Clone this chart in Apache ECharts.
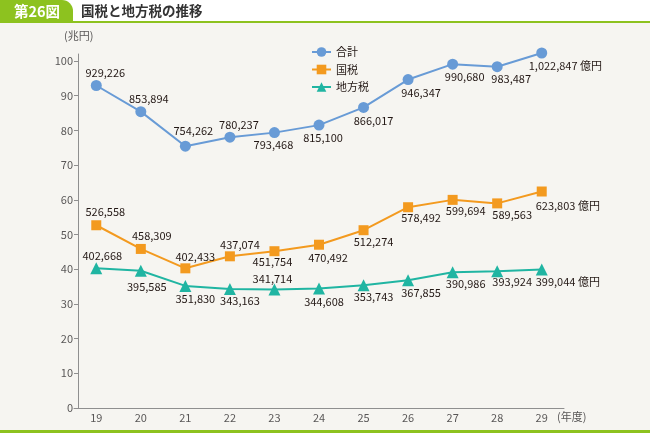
<!DOCTYPE html>
<html><head><meta charset="utf-8">
<script src="https://cdn.jsdelivr.net/npm/echarts@6/dist/echarts.min.js"></script>
<style>html,body{margin:0;padding:0;background:#f6f5f1}#c{width:650px;height:433px}</style>
</head><body><div id="c"></div>
<script>
// ---- data ----
const categories = ['19','20','21','22','23','24','25','26','27','28','29'];
const totalTax = [929226, 853894, 754262, 780237, 793468, 815100, 866017, 946347, 990680, 983487, 1022847];
const nationalTax = [526558, 458309, 402433, 437074, 451754, 470492, 512274, 578492, 599694, 589563, 623803];
const localTax = [402668, 395585, 351830, 343163, 341714, 344608, 353743, 367855, 390986, 393924, 399044];
const yTicks = [0,10,20,30,40,50,60,70,80,90,100];
const seriesNames = ['合計','国税','地方税'];

// ---- label offsets (style) ----
const offTotal = [[9,-13],[8,-13],[8,-15],[9,-12],[-1,12],[4,13],[10,13],[13,13],[12,13],[14,12],[-13,13]];
const offNational = [[9,-13],[11,-13],[10,-12],[10,-11],[-2,11],[9,13],[10,12],[13,11],[13,11],[15,11],[-6,14]];
const offLocal = [[6,-12],[6,16],[10,13],[10,12],[-2,-11],[5,13],[10,12],[13,12],[13,12],[15,11],[-6,12]];

const FONT = '"Noto Sans CJK JP","Noto Sans",sans-serif';
const fmt = v => v.toLocaleString('en-US');

function buildData(vals, offs) {
  return vals.map((v, i) => {
    const last = i === vals.length - 1;
    return {
      value: v / 10000,
      label: {
        show: true,
        position: 'inside',
        offset: offs[i],
        align: last ? 'left' : 'center',
        verticalAlign: 'middle',
        formatter: () => fmt(v) + (last ? ' 億円' : ''),
        color: '#231815',
        fontSize: 11,
        fontFamily: FONT
      }
    };
  });
}

const colors = ['#689bd6', '#f39a1f', '#20b5a2'];
const symbols = ['circle', 'rect', 'triangle'];
const symSizes = [11, 10, 12];
const datasets = [buildData(totalTax, offTotal), buildData(nationalTax, offNational), buildData(localTax, offLocal)];

const chart = echarts.init(document.getElementById('c'), null, {renderer: 'canvas'});
chart.setOption({
  backgroundColor: '#f6f5f1',
  animation: false,
  textStyle: {fontFamily: FONT},
  grid: {left: 74, right: 86, top: 54, bottom: 25, containLabel: false},
  legend: {
    orient: 'vertical', left: 306, top: 41,
    itemWidth: 19, itemHeight: 12, itemGap: 5.5,
    textStyle: {fontSize: 11, color: '#231815', fontFamily: FONT, lineHeight: 12},
    data: seriesNames
  },
  xAxis: {
    type: 'category', data: categories, boundaryGap: true,
    axisLine: {lineStyle: {color: '#8f8f8f', width: 1}},
    axisTick: {inside: true, length: 4, alignWithLabel: true, lineStyle: {color: '#8f8f8f'}},
    axisLabel: {color: '#595757', fontSize: 11, margin: 4, fontFamily: FONT},
    splitLine: {show: false}
  },
  yAxis: {
    type: 'value', min: 0, max: 102, offset: -4,
    axisLine: {show: true, lineStyle: {color: '#8f8f8f', width: 1}},
    axisTick: {show: true, length: 4, customValues: yTicks, lineStyle: {color: '#8f8f8f'}},
    axisLabel: {color: '#595757', fontSize: 11, margin: 5, customValues: yTicks, fontFamily: FONT},
    splitLine: {show: false}
  },
  series: seriesNames.map((n, k) => ({
    name: n, type: 'line', data: datasets[k], clip: false,
    symbol: symbols[k], symbolSize: symSizes[k],
    itemStyle: {color: colors[k]},
    lineStyle: {color: colors[k], width: 2},
    z: 3 - k
  })),
  graphic: [
    {type: 'rect', shape: {x: 0, y: 0, width: 650, height: 22}, style: {fill: '#ffffff'}, z: -1},
    {type: 'rect', shape: {x: 0, y: 21, width: 650, height: 2}, style: {fill: '#8dc21f'}},
    {type: 'rect', shape: {x: 0, y: 0, width: 73, height: 23, r: [0, 11, 0, 0]}, style: {fill: '#8dc21f'}},
    {type: 'text', x: 14, y: 11, style: {text: '第26図', fill: '#ffffff', font: 'bold 14.5px ' + FONT, verticalAlign: 'middle'}},
    {type: 'text', x: 81, y: 11, style: {text: '国税と地方税の推移', fill: '#333333', font: 'bold 13.5px ' + FONT, verticalAlign: 'middle'}},
    {type: 'rect', shape: {x: 0, y: 430, width: 650, height: 3}, style: {fill: '#8dc21f'}},
    {type: 'text', x: 64, y: 36, style: {text: '(兆円)', fill: '#595757', font: '11px ' + FONT, verticalAlign: 'middle'}},
    {type: 'text', x: 557, y: 417, style: {text: '(年度)', fill: '#595757', font: '11px ' + FONT, verticalAlign: 'middle'}}
  ]
});
</script></body></html>
